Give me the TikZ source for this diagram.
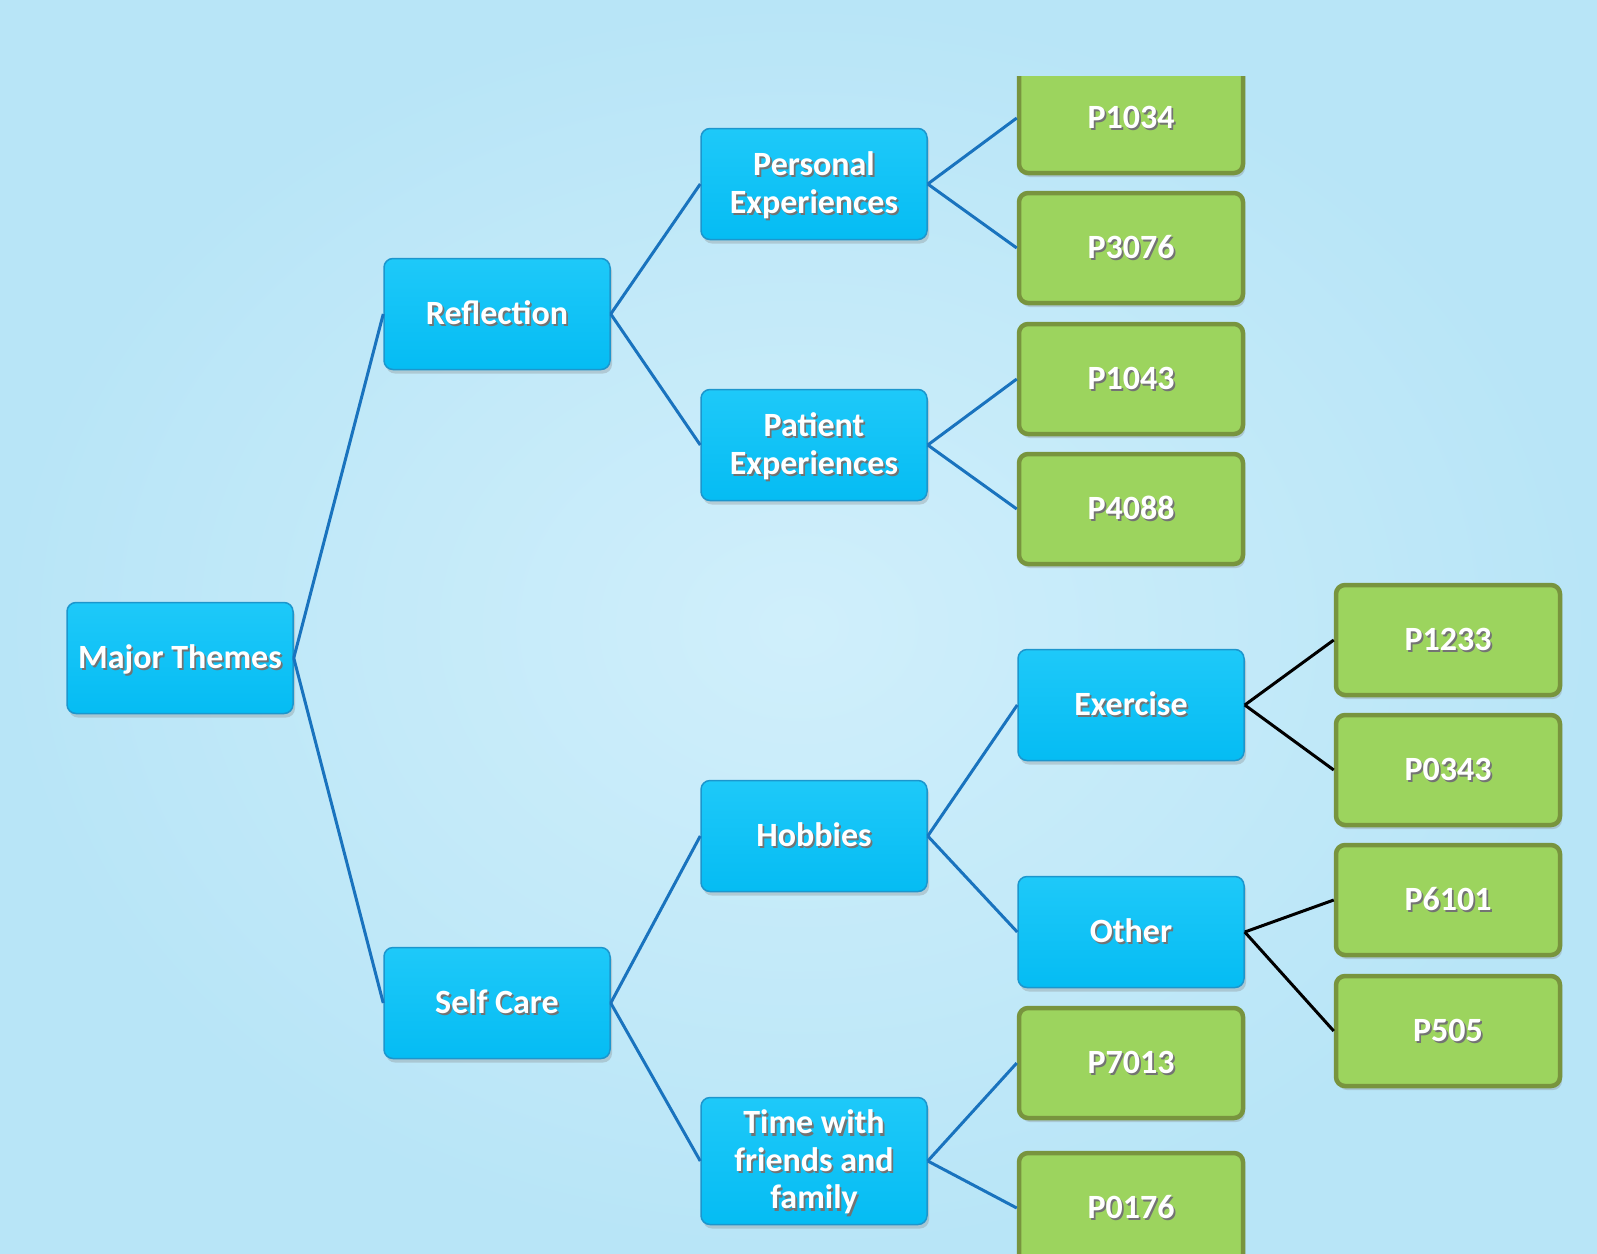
\documentclass[tikz,border=0pt]{standalone}
\usepackage{fontspec}
\setmainfont{Carlito}
\usepackage{tikz}
\usetikzlibrary{shadows}
\usepackage{xcolor}

\definecolor{bglight}{RGB}{208,239,251}
\definecolor{bgdark}{RGB}{184,229,247}
\definecolor{themetop}{RGB}{30,201,249}
\definecolor{themebot}{RGB}{5,188,243}
\definecolor{themeline}{RGB}{28,150,205}
\definecolor{leaffill}{RGB}{156,212,94}
\definecolor{leafline}{RGB}{120,148,62}
\definecolor{linkblue}{RGB}{25,115,190}

% 文字阴影
\newcommand{\boxtxt}[1]{\begin{tabular}{@{}c@{}}#1\end{tabular}}
\newcommand{\shadetxt}[1]{\raisebox{-4pt}[\height][\depth]{\makebox[0pt][l]{\hspace{1.8pt}\raisebox{-2.2pt}{\color{black!55}\boxtxt{#1}}}\boxtxt{#1}}}

\tikzset{
  basebox/.style={rectangle,rounded corners=9pt,inner sep=0pt,text=white,
    font=\fontsize{34}{37.5}\selectfont\bfseries,
    drop shadow={shadow xshift=2pt,shadow yshift=-4pt,opacity=0.3}},
  theme/.style={basebox,draw=themeline,line width=1.5pt,top color=themetop,
    bottom color=themebot,minimum width=226pt,minimum height=111pt},
  leaf/.style={basebox,draw=leafline,line width=4.5pt,fill=leaffill,
    minimum width=224pt,minimum height=110pt},
  wire/.style={draw=linkblue,line width=3pt},
  wireblack/.style={draw=black,line width=3pt}
}

\begin{document}
\begin{tikzpicture}[x=1pt,y=-1pt]
  \useasboundingbox (0,0) rectangle (1597,1253);
  % 背景
  \shade[inner color=bglight,outer color=bgdark] (0,0) rectangle (1597,1253);
  % 主题
  \node[theme] (major) at (180,658) {\shadetxt{Major Themes}};
  \node[theme] (refl) at (497,314) {\shadetxt{Reflection}};
  \node[theme] (self) at (497,1003) {\shadetxt{Self Care}};
  \node[theme] (persexp) at (814,184) {\shadetxt{Personal\\Experiences}};
  \node[theme] (patexp) at (814,445) {\shadetxt{Patient\\Experiences}};
  \node[theme] (hobby) at (814,836) {\shadetxt{Hobbies}};
  \node[theme,minimum height=127pt] (friends) at (814,1161) {\shadetxt{Time with\\friends and\\family}};
  \node[theme] (exer) at (1131,705) {\shadetxt{Exercise}};
  \node[theme] (other) at (1131,932) {\shadetxt{Other}};
  % 参与者
  \begin{scope}
    \clip (950,76) rectangle (1320,400);
    \node[leaf] (p1034) at (1131,118) {\shadetxt{P1034}};
  \end{scope}
  \node[leaf] (p3076) at (1131,248) {\shadetxt{P3076}};
  \node[leaf] (p1043) at (1131,379) {\shadetxt{P1043}};
  \node[leaf] (p4088) at (1131,509) {\shadetxt{P4088}};
  \node[leaf] (p1233) at (1448,640) {\shadetxt{P1233}};
  \node[leaf] (p0343) at (1448,770) {\shadetxt{P0343}};
  \node[leaf] (p6101) at (1448,900) {\shadetxt{P6101}};
  \node[leaf] (p505) at (1448,1031) {\shadetxt{P505}};
  \node[leaf] (p7013) at (1131,1063) {\shadetxt{P7013}};
  \node[leaf] (p0176) at (1131,1208) {\shadetxt{P0176}};
  % 连线
  \draw[wire] (major.east) -- (refl.west);
  \draw[wire] (major.east) -- (self.west);
  \draw[wire] (refl.east) -- (persexp.west);
  \draw[wire] (refl.east) -- (patexp.west);
  \draw[wire] (self.east) -- (hobby.west);
  \draw[wire] (self.east) -- (friends.west);
  \draw[wire] (persexp.east) -- (p1034.west);
  \draw[wire] (persexp.east) -- (p3076.west);
  \draw[wire] (patexp.east) -- (p1043.west);
  \draw[wire] (patexp.east) -- (p4088.west);
  \draw[wire] (hobby.east) -- (exer.west);
  \draw[wire] (hobby.east) -- (other.west);
  \draw[wire] (friends.east) -- (p7013.west);
  \draw[wire] (friends.east) -- (p0176.west);
  \draw[wireblack] (exer.east) -- (p1233.west);
  \draw[wireblack] (exer.east) -- (p0343.west);
  \draw[wireblack] (other.east) -- (p6101.west);
  \draw[wireblack] (other.east) -- (p505.west);
\end{tikzpicture}
\end{document}
